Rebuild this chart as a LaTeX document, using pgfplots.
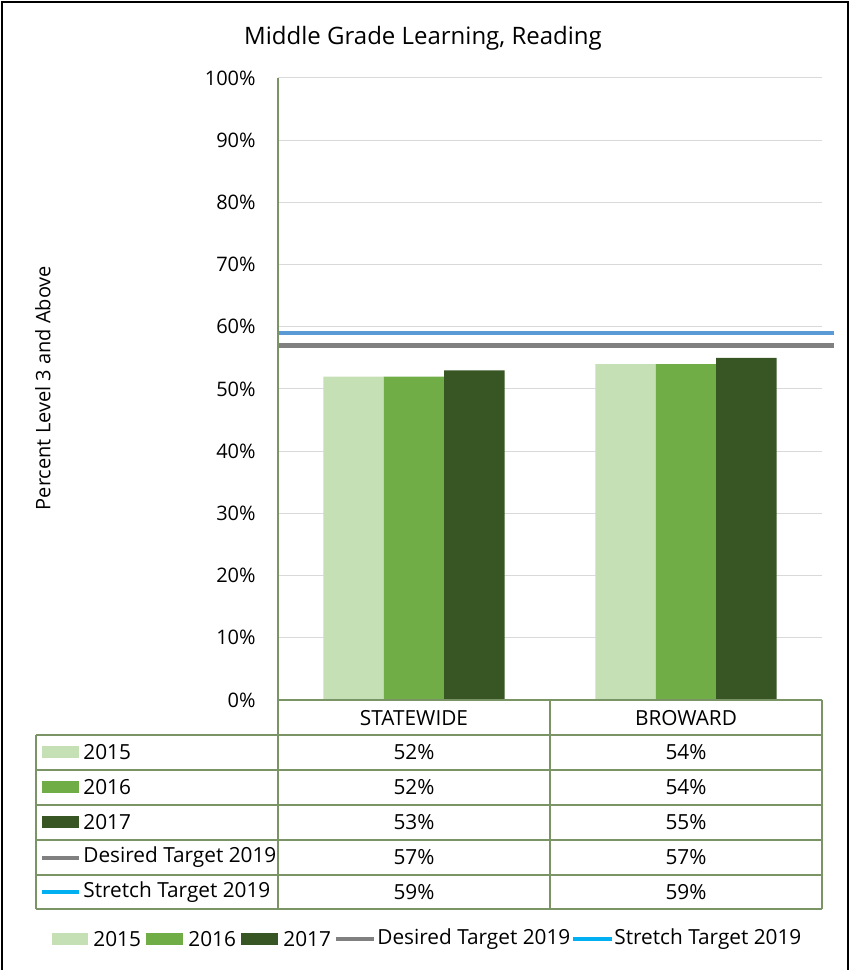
\documentclass[border=0pt]{standalone}
\usepackage{fontspec}
\setmainfont{Open Sans}
\usepackage{pgfplots}
\usepackage{pgfplotstable}
\pgfplotsset{compat=1.18}

\definecolor{c2015}{HTML}{C5E0B4}
\definecolor{c2016}{HTML}{70AD47}
\definecolor{c2017}{HTML}{375623}
\definecolor{desired}{HTML}{808080}
\definecolor{stretch}{HTML}{5B9BD5}
\definecolor{stretchkey}{HTML}{00B0F0}
\definecolor{rulecol}{HTML}{7A9466}
\definecolor{gridcol}{HTML}{D9D9D9}

% Percent at level 3 and above, one row per district
\pgfplotstableread{
x s2015 s2016 s2017 desired stretch
0 52 52 53 57 59
1 54 54 55 57 59
}\datatable

\newcommand\cell[2]{\pgfplotstablegetelem{#1}{#2}\of\datatable\pgfplotsretval\%}
\newcommand\txt{\fontsize{10}{12}\selectfont}
\newcommand\tab{\fontsize{10.4}{12}\selectfont}

\begin{document}
\begin{tikzpicture}
\useasboundingbox (-139pt,-135pt) rectangle (286pt,350pt);
\begin{axis}[
  at={(0,0)}, anchor=south west,
  width=272pt, height=311pt, scale only axis,
  xmin=-0.5, xmax=1.5, ymin=0, ymax=100,
  ytick={0,10,...,100},
  yticklabel={\pgfmathprintnumber{\tick}\%},
  /pgf/number format/assume math mode=true,
  yticklabel style={font=\txt, inner sep=0pt, xshift=-11pt},
  xtick=\empty,
  ymajorgrids, grid style={gridcol, line width=0.5pt},
  major tick length=0pt,
  axis line style={draw=none},
  clip=false,
]
\addplot[ybar, bar width=0.2224, bar shift=-0.2224, fill=c2015, draw=none] table[x=x,y=s2015]{\datatable};
\addplot[ybar, bar width=0.2224, bar shift=0, fill=c2016, draw=none] table[x=x,y=s2016]{\datatable};
\addplot[ybar, bar width=0.2224, bar shift=0.2224, fill=c2017, draw=none] table[x=x,y=s2017]{\datatable};
\addplot[desired, line width=2.3pt, mark=none] coordinates {(-0.5,57) (1.544,57)};
\addplot[stretch, line width=2.3pt, mark=none] coordinates {(-0.5,59) (1.544,59)};
\end{axis}

% frame, title, axis title, data table and legend, laid out in pixel units
\begin{scope}[shift={(-139pt,350pt)}, x=0.5pt, y=-0.5pt]
  \draw[line width=1pt] (2,970) -- (2,2) -- (848,2) -- (848,970);
  \node[font=\fontsize{12}{14}\selectfont, anchor=base] at (423,45) {Middle Grade Learning, Reading};
  \node[font=\txt, rotate=90] at (43,388) {Percent Level 3 and Above};

  % table rules
  \begin{scope}[rulecol, line width=0.6pt]
    \draw (278,78) -- (278,909);
    \draw (550,700) -- (550,909);
    \draw (822,700) -- (822,909);
    \draw (36,735) -- (36,909);
    \draw (278,700) -- (822,700);
    \foreach \yy in {735,770,805,840,875,909} \draw (36,\yy) -- (822,\yy);
  \end{scope}

  \node[font=\tab] at (414,718) {STATEWIDE};
  \node[font=\tab] at (686,718) {BROWARD};

  % table rows
  \fill[c2015] (42,746) rectangle (79,758);
  \node[font=\tab, anchor=west, inner sep=0pt] at (83,752.5) {2015};
  \node[font=\tab] at (414,752.5) {\cell{0}{s2015}};
  \node[font=\tab] at (686,752.5) {\cell{1}{s2015}};

  \fill[c2016] (42,781) rectangle (79,793);
  \node[font=\tab, anchor=west, inner sep=0pt] at (83,787.5) {2016};
  \node[font=\tab] at (414,787.5) {\cell{0}{s2016}};
  \node[font=\tab] at (686,787.5) {\cell{1}{s2016}};

  \fill[c2017] (42,816) rectangle (79,828);
  \node[font=\tab, anchor=west, inner sep=0pt] at (83,822.5) {2017};
  \node[font=\tab] at (414,822.5) {\cell{0}{s2017}};
  \node[font=\tab] at (686,822.5) {\cell{1}{s2017}};

  \draw[desired, line width=2pt] (42,857.5) -- (79,857.5);
  \node[font=\tab, anchor=west, inner sep=0pt] at (83,857.5) {Desired Target 2019};
  \node[font=\tab] at (414,857.5) {\cell{0}{desired}};
  \node[font=\tab] at (686,857.5) {\cell{1}{desired}};

  \draw[stretchkey, line width=2pt] (42,892) -- (79,892);
  \node[font=\tab, anchor=west, inner sep=0pt] at (83,892) {Stretch Target 2019};
  \node[font=\tab] at (414,892) {\cell{0}{stretch}};
  \node[font=\tab] at (686,892) {\cell{1}{stretch}};

  % legend
  \fill[c2015] (52,933) rectangle (88,945);
  \node[font=\tab, anchor=west, inner sep=0pt] at (93,939) {2015};
  \fill[c2016] (146,933) rectangle (183,945);
  \node[font=\tab, anchor=west, inner sep=0pt] at (188,939) {2016};
  \fill[c2017] (241,933) rectangle (278,945);
  \node[font=\tab, anchor=west, inner sep=0pt] at (283,939) {2017};
  \draw[desired, line width=2pt] (336,939) -- (374,939);
  \node[font=\tab, anchor=west, inner sep=0pt] at (377,939) {Desired Target 2019};
  \draw[stretchkey, line width=2pt] (573,939) -- (612,939);
  \node[font=\tab, anchor=west, inner sep=0pt] at (614,939) {Stretch Target 2019};
\end{scope}
\end{tikzpicture}
\end{document}
